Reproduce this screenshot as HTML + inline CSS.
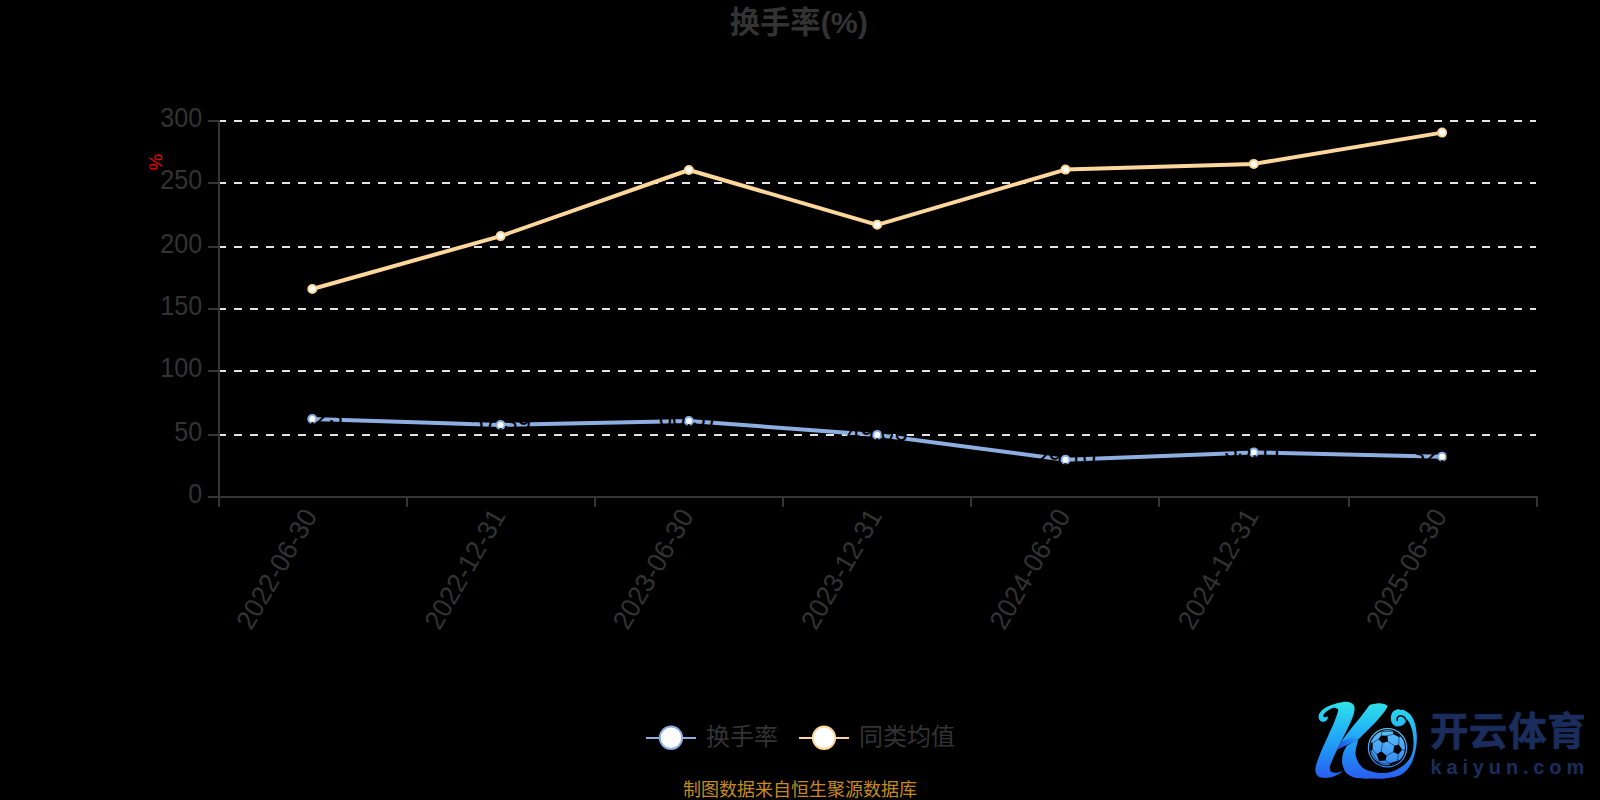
<!DOCTYPE html>
<html lang="zh-CN">
<head>
<meta charset="utf-8">
<title>换手率(%)</title>
<style>
html,body{margin:0;padding:0;background:#000;}
body{width:1600px;height:800px;overflow:hidden;position:relative;font-family:"Liberation Sans", "Noto Sans CJK SC", sans-serif;}
svg{position:absolute;left:0;top:0;display:block;}
text{font-family:"Liberation Sans", "Noto Sans CJK SC", sans-serif;}
.ax{stroke:#353535;stroke-width:2;fill:none;}
.gl{stroke:#e4e4e4;stroke-width:2;stroke-dasharray:8 8;fill:none;}
.tl{font-size:27px;fill:#333333;}
.dl{font-size:26.5px;fill:#000;}
</style>
</head>
<body>
<svg width="1600" height="800" viewBox="0 0 1600 800">
<rect width="1600" height="800" fill="#000"/>
<text x="798.8" y="33.4" text-anchor="middle" font-size="30.3" font-weight="700" fill="#333333">换手率(%)</text>
<line class="gl" x1="218" x2="1536" y1="435" y2="435"/>
<line class="gl" x1="218" x2="1536" y1="371" y2="371"/>
<line class="gl" x1="218" x2="1536" y1="309" y2="309"/>
<line class="gl" x1="218" x2="1536" y1="247" y2="247"/>
<line class="gl" x1="218" x2="1536" y1="183" y2="183"/>
<line class="gl" x1="218" x2="1536" y1="121" y2="121"/>
<line class="ax" x1="219" x2="219" y1="120" y2="497"/>
<line class="ax" x1="218" x2="1538" y1="497" y2="497"/>
<line class="ax" x1="208" x2="219" y1="497" y2="497"/>
<text class="tl" transform="translate(202.3,502.7) scale(0.932,1)" text-anchor="end">0</text>
<line class="ax" x1="208" x2="219" y1="435" y2="435"/>
<text class="tl" transform="translate(202.3,440.7) scale(0.932,1)" text-anchor="end">50</text>
<line class="ax" x1="208" x2="219" y1="371" y2="371"/>
<text class="tl" transform="translate(202.3,376.7) scale(0.932,1)" text-anchor="end">100</text>
<line class="ax" x1="208" x2="219" y1="309" y2="309"/>
<text class="tl" transform="translate(202.3,314.7) scale(0.932,1)" text-anchor="end">150</text>
<line class="ax" x1="208" x2="219" y1="247" y2="247"/>
<text class="tl" transform="translate(202.3,252.7) scale(0.932,1)" text-anchor="end">200</text>
<line class="ax" x1="208" x2="219" y1="183" y2="183"/>
<text class="tl" transform="translate(202.3,188.7) scale(0.932,1)" text-anchor="end">250</text>
<line class="ax" x1="208" x2="219" y1="121" y2="121"/>
<text class="tl" transform="translate(202.3,126.7) scale(0.932,1)" text-anchor="end">300</text>
<line class="ax" x1="219" x2="219" y1="497" y2="507"/>
<line class="ax" x1="407" x2="407" y1="497" y2="507"/>
<line class="ax" x1="595" x2="595" y1="497" y2="507"/>
<line class="ax" x1="783" x2="783" y1="497" y2="507"/>
<line class="ax" x1="971" x2="971" y1="497" y2="507"/>
<line class="ax" x1="1159" x2="1159" y1="497" y2="507"/>
<line class="ax" x1="1349" x2="1349" y1="497" y2="507"/>
<line class="ax" x1="1537" x2="1537" y1="497" y2="507"/>
<text class="tl" transform="translate(312.30,512.5) rotate(-60) scale(0.967,1)" text-anchor="end" dy="6.5">2022-06-30</text>
<text class="tl" transform="translate(500.60,512.5) rotate(-60) scale(0.967,1)" text-anchor="end" dy="6.5">2022-12-31</text>
<text class="tl" transform="translate(688.90,512.5) rotate(-60) scale(0.967,1)" text-anchor="end" dy="6.5">2023-06-30</text>
<text class="tl" transform="translate(877.20,512.5) rotate(-60) scale(0.967,1)" text-anchor="end" dy="6.5">2023-12-31</text>
<text class="tl" transform="translate(1065.50,512.5) rotate(-60) scale(0.967,1)" text-anchor="end" dy="6.5">2024-06-30</text>
<text class="tl" transform="translate(1253.80,512.5) rotate(-60) scale(0.967,1)" text-anchor="end" dy="6.5">2024-12-31</text>
<text class="tl" transform="translate(1442.10,512.5) rotate(-60) scale(0.967,1)" text-anchor="end" dy="6.5">2025-06-30</text>
<text transform="translate(155.8,162) rotate(-90)" text-anchor="middle" font-size="18.5" fill="#f00000" dy="6.4">%</text>
<polyline points="312.30,419.00 500.60,425.00 688.90,421.00 877.20,434.90 1065.50,459.70 1253.80,452.40 1442.10,456.80" fill="none" stroke="#8caee0" stroke-width="4" stroke-linejoin="bevel"/>
<circle cx="312.30" cy="419.00" r="4" fill="#fff" stroke="#8caee0" stroke-width="2"/>
<circle cx="500.60" cy="425.00" r="4" fill="#fff" stroke="#8caee0" stroke-width="2"/>
<circle cx="688.90" cy="421.00" r="4" fill="#fff" stroke="#8caee0" stroke-width="2"/>
<circle cx="877.20" cy="434.90" r="4" fill="#fff" stroke="#8caee0" stroke-width="2"/>
<circle cx="1065.50" cy="459.70" r="4" fill="#fff" stroke="#8caee0" stroke-width="2"/>
<circle cx="1253.80" cy="452.40" r="4" fill="#fff" stroke="#8caee0" stroke-width="2"/>
<circle cx="1442.10" cy="456.80" r="4" fill="#fff" stroke="#8caee0" stroke-width="2"/>
<text class="dl" transform="translate(312.30,424.80) scale(0.92,1)" text-anchor="middle">62.23</text>
<text class="dl" transform="translate(500.60,430.80) scale(0.92,1)" text-anchor="middle">57.39</text>
<text class="dl" transform="translate(688.90,426.80) scale(0.92,1)" text-anchor="middle">60.57</text>
<text class="dl" transform="translate(877.20,440.70) scale(0.92,1)" text-anchor="middle">49.06</text>
<text class="dl" transform="translate(1065.50,465.50) scale(0.92,1)" text-anchor="middle">29.10</text>
<text class="dl" transform="translate(1253.80,458.20) scale(0.92,1)" text-anchor="middle">35.11</text>
<text class="dl" transform="translate(1442.10,462.60) scale(0.92,1)" text-anchor="middle">32.07</text>
<polyline points="312.30,289.00 500.60,236.10 688.90,170.00 877.20,224.80 1065.50,169.60 1253.80,163.90 1442.10,132.60" fill="none" stroke="#fdd79b" stroke-width="4" stroke-linejoin="bevel"/>
<circle cx="312.30" cy="289.00" r="4" fill="#fff" stroke="#fdd79b" stroke-width="2"/>
<circle cx="500.60" cy="236.10" r="4" fill="#fff" stroke="#fdd79b" stroke-width="2"/>
<circle cx="688.90" cy="170.00" r="4" fill="#fff" stroke="#fdd79b" stroke-width="2"/>
<circle cx="877.20" cy="224.80" r="4" fill="#fff" stroke="#fdd79b" stroke-width="2"/>
<circle cx="1065.50" cy="169.60" r="4" fill="#fff" stroke="#fdd79b" stroke-width="2"/>
<circle cx="1253.80" cy="163.90" r="4" fill="#fff" stroke="#fdd79b" stroke-width="2"/>
<circle cx="1442.10" cy="132.60" r="4" fill="#fff" stroke="#fdd79b" stroke-width="2"/>
<line x1="646" x2="696" y1="738" y2="738" stroke="#8caee0" stroke-width="2"/><circle cx="671" cy="737.8" r="11.2" fill="#fff" stroke="#8caee0" stroke-width="2"/><text x="706" y="744.5" font-size="24" fill="#333333">换手率</text>
<line x1="799" x2="849" y1="738" y2="738" stroke="#fdd79b" stroke-width="2"/><circle cx="824" cy="737.8" r="11.2" fill="#fff" stroke="#fdd79b" stroke-width="2"/><text x="859" y="744.5" font-size="24" fill="#333333">同类均值</text>
<text x="800" y="796" text-anchor="middle" font-size="18" fill="#c48a23">制图数据来自恒生聚源数据库</text>
<defs>
<linearGradient id="kg" x1="0" y1="80" x2="0" y2="725" gradientUnits="userSpaceOnUse">
<stop offset="0" stop-color="#2fe4e8"/>
<stop offset="0.35" stop-color="#22b6f6"/>
<stop offset="0.7" stop-color="#2288f4"/>
<stop offset="1" stop-color="#2a5cf0"/>
</linearGradient>
<linearGradient id="cr" x1="271" y1="477" x2="445" y2="392" gradientUnits="userSpaceOnUse">
<stop offset="0" stop-color="#2447e6"/>
<stop offset="1" stop-color="#2447e6" stop-opacity="0"/>
</linearGradient>
</defs>
<g transform="translate(1305,692) scale(0.12)">
<g fill="url(#kg)">
<path d="M316.7,83.7 C339.6,79.9 348.0,79.9 362.5,83.7 C377.1,87.5 395.4,95.9 403.8,106.6 C412.2,117.3 414.5,129.6 413.0,147.9 C411.4,166.2 404.6,189.9 394.6,216.6 C384.7,243.4 367.9,277.8 353.4,308.3 C338.9,338.9 322.8,369.4 307.5,400.0 C292.3,430.5 275.5,462.6 261.7,491.6 C248.0,520.7 234.2,551.2 225.0,574.2 C215.9,597.1 208.5,614.2 206.7,629.2 C204.9,644.1 211.6,652.4 214.0,664.0 C228.4,667.0 240.0,673.9 257.1,673.2 C274.2,672.4 296.8,664.0 316.7,659.4 C301.4,669.5 289.2,680.6 270.9,689.7 C252.5,698.7 229.6,709.5 206.7,713.5 C183.8,717.5 152.2,718.7 133.4,713.5 C114.6,708.3 101.6,696.4 94.0,682.3 C86.3,668.3 84.8,650.2 87.5,629.2 C90.3,608.1 99.8,584.8 110.5,555.8 C121.1,526.8 137.2,488.6 151.7,455.0 C166.2,421.4 183.0,386.2 197.5,354.1 C212.1,322.1 227.3,290.0 238.8,262.5 C250.2,235.0 259.7,208.7 266.3,189.1 C272.9,169.6 274.2,159.8 278.2,145.1 C268.1,140.2 259.1,131.1 248.0,130.5 C236.8,129.9 224.3,134.7 211.3,141.5 C198.3,148.2 180.0,161.6 170.0,170.8 C160.1,180.0 152.9,189.8 151.7,196.5 C150.5,203.2 157.4,209.9 162.7,211.1 C168.1,212.4 178.6,204.1 183.8,203.8 C189.0,203.5 190.5,207.5 193.9,209.3 C189.0,218.5 187.0,230.2 179.2,236.8 C171.4,243.4 157.1,249.8 147.1,248.7 C137.2,247.7 125.0,240.3 119.6,230.4 C114.3,220.5 109.7,203.7 115.0,189.1 C120.4,174.6 133.4,157.1 151.7,143.3 C170.0,129.6 197.5,116.6 225.0,106.6 C252.5,96.7 293.8,87.5 316.7,83.7 Z"/>
<path d="M445.0,392.0 C439.0,416.0 430.8,441.3 427.0,464.0 C423.2,486.7 417.5,505.0 422.0,528.0 C426.5,551.0 441.0,582.7 454.0,602.0 C467.0,621.3 483.2,633.8 500.0,644.0 C516.8,654.2 532.2,657.7 555.0,663.0 C577.8,668.3 608.0,676.0 637.0,676.0 C666.0,676.0 701.5,671.3 729.0,663.0 C756.5,654.7 780.7,640.7 802.0,626.0 C823.3,611.3 842.3,593.3 857.0,575.0 C871.7,556.7 882.3,536.5 890.0,516.0 C897.7,495.5 900.8,473.3 903.0,452.0 C905.2,430.7 904.5,409.5 903.0,388.0 C901.5,366.5 899.3,344.5 894.0,323.0 C888.7,301.5 879.3,276.5 871.0,259.0 C862.7,241.5 853.2,228.7 844.0,218.0 C834.8,207.3 825.3,202.7 816.0,195.0 C807.3,183.3 798.7,171.7 790.0,160.0 C800.3,156.3 806.7,144.7 821.0,149.0 C835.3,153.3 860.8,169.2 876.0,186.0 C891.2,202.8 903.2,225.5 912.0,250.0 C920.8,274.5 925.8,305.5 929.0,333.0 C932.2,360.5 933.0,386.0 931.0,415.0 C929.0,444.0 924.7,476.5 917.0,507.0 C909.3,537.5 901.0,569.8 885.0,598.0 C869.0,626.2 844.0,657.7 821.0,676.0 C798.0,694.3 777.7,700.3 747.0,708.0 C716.3,715.7 671.3,719.8 637.0,722.0 C602.7,724.2 563.8,721.0 541.0,721.0 C518.2,721.0 522.2,723.5 500.0,722.0 C477.8,720.5 434.0,719.8 408.0,712.0 C382.0,704.2 359.2,690.3 344.0,675.0 C328.8,659.7 322.8,635.3 317.0,620.0 C311.2,604.7 309.0,601.3 309.0,583.0 C309.0,564.7 310.3,532.8 317.0,510.0 C323.7,487.2 338.3,467.3 349.0,446.0 C381.0,428.0 413.0,410.0 445.0,392.0 Z"/>
<path d="M540.0,107.0 C560.0,103.0 580.0,96.2 600.0,95.0 C620.0,93.8 645.0,96.2 660.0,100.0 C675.0,103.8 680.0,112.0 690.0,118.0 C676.7,138.7 666.7,158.0 650.0,180.0 C633.3,202.0 608.2,230.2 590.0,250.0 C571.8,269.8 557.7,282.3 541.0,299.0 C524.3,315.7 506.0,334.5 490.0,350.0 C474.0,365.5 466.7,377.7 445.0,392.0 C423.3,406.3 389.0,421.8 360.0,436.0 C331.0,450.2 300.7,463.3 271.0,477.0 C281.7,456.0 289.3,436.0 303.0,414.0 C316.7,392.0 335.5,368.0 353.0,345.0 C370.5,322.0 388.2,300.5 408.0,276.0 C427.8,251.5 450.0,226.2 472.0,198.0 C494.0,169.8 517.3,137.3 540.0,107.0 Z"/>
<path d="M766.0,145.0 C754.2,148.0 737.5,155.8 729.0,168.0 C720.5,180.2 715.0,202.0 715.0,218.0 C715.0,234.0 720.5,252.5 729.0,264.0 C737.5,275.5 752.2,284.7 766.0,287.0 C779.8,289.3 800.0,284.2 812.0,278.0 C824.0,271.8 831.7,260.5 838.0,250.0 C844.3,239.5 851.3,228.3 850.0,215.0 C848.7,201.7 838.3,180.8 830.0,170.0 C821.7,159.2 810.7,154.2 800.0,150.0 C789.3,145.8 777.8,142.0 766.0,145.0 Z"/>
</g>
<path d="M271,477 L303,414 L420,360 L445,392 L360,436 Z" fill="url(#cr)"/>
<path d="M769,238 C760,205 790,192 815,202 C830,209 838,222 840,234" fill="none" stroke="#000" stroke-width="12" stroke-linecap="round"/>
</g>
<defs>
<clipPath id="bc"><circle cx="400" cy="405" r="310"/></clipPath>
<linearGradient id="bl" x1="0" y1="80" x2="0" y2="730" gradientUnits="userSpaceOnUse">
<stop offset="0" stop-color="#5cc2f7"/>
<stop offset="0.5" stop-color="#49a4f5"/>
<stop offset="1" stop-color="#3385f3"/>
</linearGradient>
</defs>
<g transform="translate(1365,725) scale(0.05625)">
<circle cx="400" cy="405" r="340" fill="none" stroke="url(#bl)" stroke-width="21"/>
<circle cx="400" cy="405" r="310" fill="url(#bl)"/>
<g clip-path="url(#bc)" fill="#000">
<polygon points="290,185 400,190 410,295 310,320 235,255"/>
<polygon points="520,370 600,345 660,440 590,520 500,480"/>
<polygon points="290,465 385,545 365,630 250,640 205,520"/>
<polygon points="495,112 560,80 700,190 605,215 500,165"/>
<polygon points="60,300 138,318 135,440 105,462 60,450"/>
<polygon points="440,682 600,625 640,650 600,760 450,760"/>
</g>
<g clip-path="url(#bc)" fill="none" stroke="#04183c" stroke-width="10" stroke-linecap="round">
<path d="M235,255 L138,318"/>
<path d="M290,185 L300,118 L495,112"/>
<path d="M300,118 L240,90"/>
<path d="M400,190 L500,165"/>
<path d="M410,295 L520,370"/>
<path d="M310,320 L290,465"/>
<path d="M500,480 L385,545"/>
<path d="M600,345 L605,215"/>
<path d="M660,440 L725,455"/>
<path d="M590,520 L580,620 L600,625"/>
<path d="M365,630 L440,682"/>
<path d="M250,640 L235,665 L440,700"/>
<path d="M205,520 L135,440"/>
<path d="M105,462 L235,665"/>
</g>
</g>
<text x="1430" y="745" font-size="38.5" font-weight="700" letter-spacing="0.6" stroke="#1a2d5c" stroke-width="0.7" fill="#1a2d5c" style="font-family:'Liberation Sans','Noto Sans CJK SC',sans-serif">开云体育</text>
<text x="1430.5" y="773.6" font-size="20" font-weight="700" letter-spacing="4.85" fill="#1a2d5c">kaiyun.com</text>
</svg>
</body>
</html>
